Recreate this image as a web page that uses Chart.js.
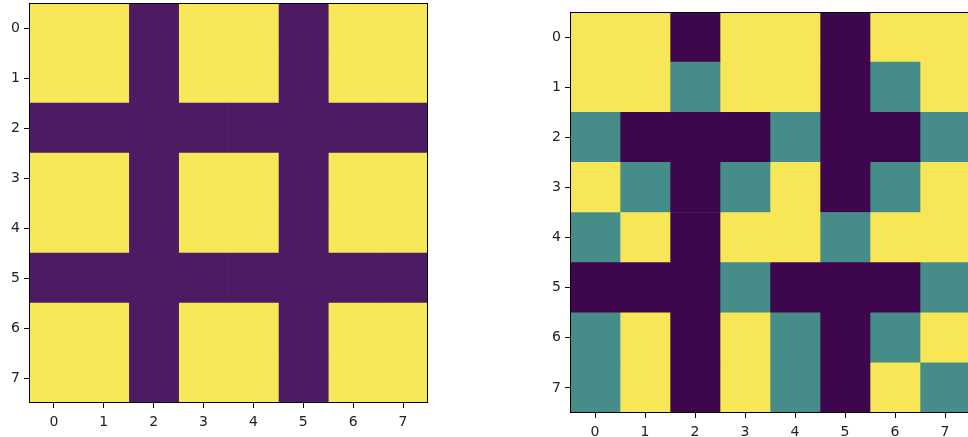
<!DOCTYPE html>
<html>
<head>
<meta charset="utf-8">
<script src="https://cdn.jsdelivr.net/npm/chart.js@4"></script>
<style>
  html,body{margin:0;padding:0;background:#fff;width:968px;height:437px;overflow:hidden;position:relative}
  .box{position:absolute;top:0;height:437px}
  #box-1{left:0;width:440px}
  #box-2{left:541px;width:429px}
</style>
</head>
<body>
<div class="box" id="box-1"><canvas id="chart-1"></canvas></div>
<div class="box" id="box-2"><canvas id="chart-2"></canvas></div>
<script>
const rowLabels=['0','1','2','3','4','5','6','7'];
const colTicks=[0,1,2,3,4,5,6,7];

// left grid: 0 = purple, 1 = yellow
const leftGrid=[
  [1,1,0,1,1,0,1,1],
  [1,1,0,1,1,0,1,1],
  [0,0,0,0,0,0,0,0],
  [1,1,0,1,1,0,1,1],
  [1,1,0,1,1,0,1,1],
  [0,0,0,0,0,0,0,0],
  [1,1,0,1,1,0,1,1],
  [1,1,0,1,1,0,1,1]
];
const leftColors=['#4d1a63','#f8e858'];

// right grid: 0 = dark purple, 1 = teal, 2 = yellow
const rightGrid=[
  [2,2,0,2,2,0,2,2],
  [2,2,1,2,2,0,1,2],
  [1,0,0,0,1,0,0,1],
  [2,1,0,1,2,0,1,2],
  [1,2,0,2,2,1,2,2],
  [0,0,0,1,0,0,0,1],
  [1,2,0,2,1,0,1,2],
  [1,2,0,2,1,0,2,1]
];
const rightColors=['#3e074d','#468d89','#f7e656'];

const frame={
  id:'frame',
  afterDraw(chart){
    const {ctx,chartArea:a}=chart;
    ctx.save();
    ctx.strokeStyle='#000';ctx.lineWidth=1;
    ctx.strokeRect(Math.round(a.left)+0.5,Math.round(a.top)+0.5,Math.round(a.right-a.left)-1,Math.round(a.bottom-a.top)-1);
    ctx.restore();
  }
};

function noPad(s){s.paddingTop=0;s.paddingBottom=0;s.paddingLeft=0;s.paddingRight=0;}

function makeHeatmap(id,grid,colors,topPad,rightPad,xAxisH){
  const datasets=colTicks.map(c=>({
    data:rowLabels.map((_,r)=>[c-0.5,c+0.5]),
    backgroundColor:rowLabels.map((_,r)=>colors[grid[r][c]]),
    borderWidth:0,
    barPercentage:1,
    categoryPercentage:1,
    grouped:false
  }));
  new Chart(document.getElementById(id),{
    type:'bar',
    data:{labels:rowLabels,datasets},
    options:{
      indexAxis:'y',
      responsive:true,
      maintainAspectRatio:false,
      animation:false,
      layout:{padding:{top:topPad,right:rightPad,left:0,bottom:0}},
      plugins:{legend:{display:false},tooltip:{enabled:false}},
      scales:{
        x:{
          type:'linear',min:-0.5,max:7.5,
          afterBuildTicks(s){s.ticks=colTicks.map(v=>({value:v}));},
          afterFit(s){s.height=xAxisH;noPad(s);},
          grid:{drawOnChartArea:false,drawTicks:true,tickLength:5,color:'#000'},
          border:{display:false},
          ticks:{color:'#222',font:{family:'DejaVu Sans',size:14},padding:6,maxRotation:0}
        },
        y:{
          type:'category',
          afterFit(s){s.width=29;noPad(s);},
          grid:{drawOnChartArea:false,drawTicks:true,tickLength:5,color:'#000',offset:false},
          border:{display:false},
          ticks:{color:'#222',font:{family:'DejaVu Sans',size:14},padding:4}
        }
      }
    },
    plugins:[frame]
  });
}

makeHeatmap('chart-1',leftGrid,leftColors,3,12,34);
makeHeatmap('chart-2',rightGrid,rightColors,12,0,24);
</script>
</body>
</html>
